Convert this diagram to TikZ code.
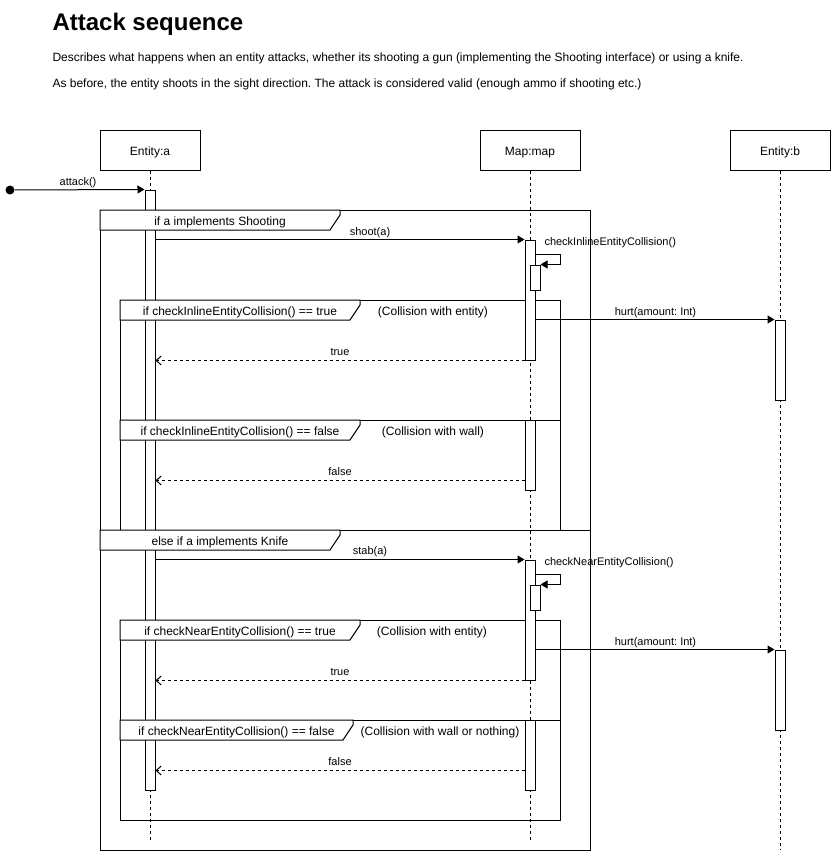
\documentclass[tikz,border=0pt]{standalone}
\usepackage{fontspec}
\setmainfont{Liberation Sans}
\usetikzlibrary{arrows.meta,calc}
\frenchspacing
\newcommand{\fhdr}[5]{%
  \filldraw[fill=white] (#1,#2) -- ++(#3,0) -- ++(0,5) -- ++(-10,15) -- (#1,#2+20) -- cycle;
  \node[t12] (#5) at (#1+#3/2,#2+15) {#4};}
\begin{document}
\begin{tikzpicture}[x=1pt,y=-1pt,line width=1pt,
  every node/.style={inner sep=0pt},
  ttl/.style={font=\fontsize{24}{28}\selectfont\bfseries, anchor=base west},
  dsc/.style={font=\fontsize{12}{14}\selectfont, anchor=base west},
  t12/.style={font=\fontsize{12}{14}\selectfont, anchor=base},
  t11/.style={font=\fontsize{11}{13}\selectfont, anchor=base},
  lhead/.style={draw, fill=white, minimum width=100pt, minimum height=40pt,
    font=\fontsize{12}{14}\selectfont, text height=12pt, text depth=2pt},
  bar/.style={draw, fill=white, minimum width=10pt},
  life/.style={dash pattern=on 3pt off 3pt},
  msg/.style={-{Triangle[length=7pt,width=8pt]}},
  ret/.style={dash pattern=on 3pt off 3pt, -{Straight Barb[length=5pt,width=9pt]}}]
\useasboundingbox[fill=white] (0,0) rectangle (831,851);

% title and description
\node[ttl] (title) at (52,30.5) {Attack sequence};
\node[dsc] (d1) at (52,62) {Describes what happens when an entity attacks, whether its shooting a gun (implementing the Shooting interface) or using a knife.};
\node[dsc] (d2) at (52,88) {As before, the entity shoots in the sight direction. The attack is considered valid (enough ammo if shooting etc.)};

% lifeline heads
\node[lhead] (ea) at (150,150) {Entity:a};
\node[lhead] (mm) at (530,150) {Map:map};
\node[lhead] (eb) at (780,150) {Entity:b};

% lifelines
\draw[life] (ea.south) -- (ea.south |- 0,840);
\draw[life] (mm.south) -- (mm.south |- 0,840);
\draw[life] (eb.south) -- (eb.south |- 0,850);

% frames
\draw (100,210) rectangle (590,850);
\draw (100,530) -- (590,530);
\draw (120,300) rectangle (560,530);
\draw (120,420) -- (560,420);
\draw (120,620) rectangle (560,820);
\draw (120,720) -- (560,720);

% activation bars
\node[bar, minimum height=600pt] (a1) at (150,490) {};
\node[bar, minimum height=120pt] (mA) at (530,300) {};
\node[bar, minimum height=25pt] (mA2) at (535,277.5) {};
\node[bar, minimum height=80pt] (b1) at (780,360) {};
\node[bar, minimum height=70pt] (mB) at (530,455) {};
\node[bar, minimum height=120pt] (mC) at (530,620) {};
\node[bar, minimum height=25pt] (mC2) at (535,597.5) {};
\node[bar, minimum height=80pt] (b2) at (780,690) {};
\node[bar, minimum height=70pt] (mD) at (530,755) {};

% frame headers
\fhdr{100}{210}{240}{if a implements Shooting}{h1}
\fhdr{100}{530}{240}{else if a implements Knife}{h2}
\fhdr{120}{300}{240}{if checkInlineEntityCollision() == true}{h3}
\fhdr{120}{420}{240}{if checkInlineEntityCollision() == false}{h4}
\fhdr{120}{620}{240}{if checkNearEntityCollision() == true}{h5}
\fhdr{120}{720}{233}{if checkNearEntityCollision() == false}{h6}

% guard notes
\node[t12] (g1) at (433,315) {(Collision with entity)};
\node[t12] (g2) at (433,435) {(Collision with wall)};
\node[t12] (g3) at (432,635) {(Collision with entity)};
\node[t12] (g4) at (440,735) {(Collision with wall or nothing)};

% messages
\node[circle, fill=black, minimum size=9pt] (st) at (10,190) {};
\draw[msg] (st) -- (a1.north west);
\node[t11] (lat) at (78,185.5) {attack()};

\draw[msg] (a1.east |- mA.north) -- (mA.north west);
\node[t11] (lsh) at (370,235.5) {shoot(a)};

\draw[msg] ($(mA.north east)+(0,15)$) -- ++(25,0) -- ++(0,10) -- (mA2.north east);
\node[t11, anchor=base west] (lci) at (544,245.5) {checkInlineEntityCollision()};

\draw[msg] (mA.east |- b1.north) -- (b1.north west);
\node[t11] (lh1) at (655.5,315) {hurt(amount: Int)};

\draw[ret] (mA.south west) -- (a1.east |- mA.south);
\node[t11] (lt1) at (340,355) {true};

\coordinate (f1) at ($(mB.south west)+(0,-10)$);
\draw[ret] (f1) -- (a1.east |- f1);
\node[t11] (lf1) at (340,475) {false};

\draw[msg] (a1.east |- mC.north) -- (mC.north west);
\node[t11] (lsb) at (370,554.5) {stab(a)};

\draw[msg] ($(mC.north east)+(0,15)$) -- ++(25,0) -- ++(0,10) -- (mC2.north east);
\node[t11, anchor=base west] (lcn) at (544,565) {checkNearEntityCollision()};

\draw[msg] (mC.east |- b2.north) -- (b2.north west);
\node[t11] (lh2) at (655.5,645) {hurt(amount: Int)};

\draw[ret] (mC.south west) -- (a1.east |- mC.south);
\node[t11] (lt2) at (340,675) {true};

\coordinate (f2) at ($(mD.south west)+(0,-20)$);
\draw[ret] (f2) -- (a1.east |- f2);
\node[t11] (lf2) at (340,765) {false};
\end{tikzpicture}
\end{document}
